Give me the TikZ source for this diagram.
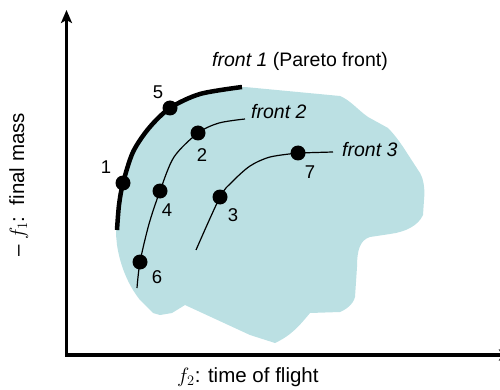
\documentclass[tikz,border=0pt]{standalone}
\usepackage{fontspec}
\setmainfont{Liberation Sans}
\usetikzlibrary{arrows.meta}
\definecolor{blob}{RGB}{187,224,227}
\begin{document}
\begin{tikzpicture}[x=1pt,y=-1pt,
  dot/.style={circle,fill=black,inner sep=0pt,minimum size=15pt},
  num/.style={inner sep=0pt,font=\fontsize{18.5}{20}\selectfont},
  lab/.style={inner sep=0pt,anchor=base west,font=\fontsize{19.5}{22}\selectfont},
  axislab/.style={inner sep=0pt,anchor=base west,font=\fontsize{20.5}{24}\selectfont},
  thinfront/.style={line width=1.2pt},
  thickfront/.style={line width=4.5pt},
  axisline/.style={line width=3.5pt}]
\useasboundingbox (0,0) rectangle (500,390);
% region of solutions
\fill[blob] (116,235) -- (117,215) .. controls (118,195) and (124,170) .. (135,150)
  .. controls (150,125) and (175,100) .. (205,92) -- (245,87) -- (340,96)
  .. controls (350,100) and (358,110) .. (368,117) -- (388,128)
  .. controls (395,135) and (402,145) .. (407,153) -- (420,173)
  .. controls (424,180) and (425,190) .. (424,200) -- (423,215)
  .. controls (418,226) and (405,232) .. (390,234) -- (370,237)
  .. controls (360,240) and (357,250) .. (357,267) -- (355,297)
  .. controls (353,305) and (345,310) .. (340,312) -- (310,313)
  .. controls (300,325) and (292,335) .. (275,343) -- (250,335) -- (185,305)
  -- (172,313) -- (160,315) -- (153,313) -- (148,308) -- (140,300)
  .. controls (128,285) and (120,265) .. (117,245) -- cycle;
% axes
\coordinate (ytip) at (66.5,10);
\coordinate (origin) at (66.5,355);
\coordinate (xtip) at (512,355);
\draw[axisline,{Stealth[length=13pt,width=11pt,inset=3pt]}-{Stealth[length=13pt,width=11pt,inset=3pt]}]
  (ytip) -- (origin) -- (xtip);
% point positions
\coordinate (c1) at (123,183);
\coordinate (c5) at (170,108);
\coordinate (c2) at (198,133);
\coordinate (c4) at (160,191);
\coordinate (c6) at (140,262);
\coordinate (c3) at (220,197);
\coordinate (c7) at (298,153);
% fronts
\draw[thickfront] plot[smooth] coordinates {(117,230) (119,205) (c1) (133,152) (149,128) (c5) (200,94) (242,87)};
\draw[thinfront] plot[smooth] coordinates {(137,288) (c6) (149,224) (c4) (174,157) (c2) (219,123) (245,119)};
\draw[thinfront] plot[smooth] coordinates {(196,250) (c3) (232,182) (250,166) (270,157) (c7)} -- (333,152);
% points
\foreach \i in {1,2,3,4,5,6,7} { \node[dot] (n\i) at (c\i) {}; }
% point numbers
\node[num] (l1) at (106,167) {1};
\node[num] (l5) at (158,92) {5};
\node[num] (l2) at (202,155) {2};
\node[num] (l4) at (167,210) {4};
\node[num] (l6) at (157,277) {6};
\node[num] (l3) at (233,215) {3};
\node[num] (l7) at (310,172) {7};
% front labels
\node[lab] (t1) at (212,67) {\textit{front 1} (Pareto front)};
\node[lab] (t2) at (251,119) {\textit{front 2}};
\node[lab] (t3) at (342,157) {\textit{front 3}};
% axis labels
\node[axislab] (xl) at (177,382) {$f_2$: time of flight};
\node[axislab,rotate=90] (yl) at (24,257) {– $f_1$:\ \ final mass};
\end{tikzpicture}
\end{document}
